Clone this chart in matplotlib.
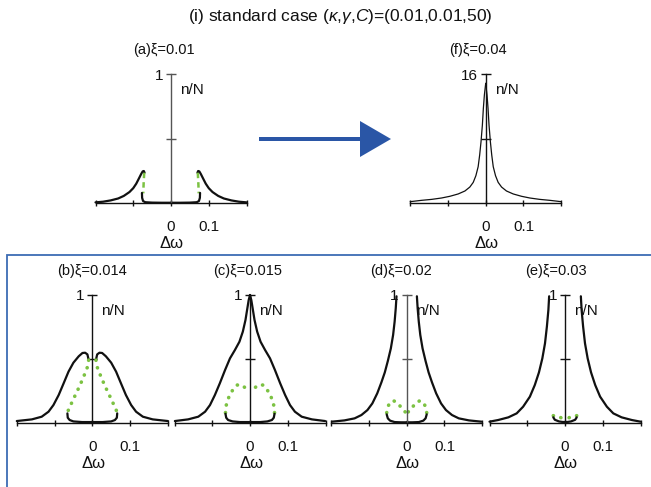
import numpy as np
import matplotlib
matplotlib.use("Agg")
import matplotlib.pyplot as plt
from matplotlib.patches import FancyArrow

plt.rcParams['font.family'] = ['Liberation Sans', 'DejaVu Sans']
plt.rcParams['mathtext.fontset'] = 'custom'
plt.rcParams['mathtext.rm'] = 'Liberation Sans'
plt.rcParams['mathtext.it'] = 'Liberation Sans:italic'

# Values: left half of each curve (the picture is mirror symmetric about 0)
# (a) xi = 0.01
a_up_x = [-0.2, -0.18, -0.16, -0.14, -0.125, -0.11, -0.1, -0.092, -0.085, -0.079, -0.075, -0.072, -0.070]
a_up_y = [0.005, 0.01, 0.02, 0.035, 0.055, 0.085, 0.115, 0.15, 0.19, 0.225, 0.245, 0.248, 0.235]
a_mid_x = [-0.071, -0.0725, -0.0735]
a_mid_y = [0.235, 0.15, 0.075]
a_low_x = [-0.077, -0.0765, -0.074, -0.068, -0.05, -0.025, 0.0]
a_low_y = [0.078, 0.04, 0.015, 0.006, 0.003, 0.002, 0.002]

# (b) xi = 0.014
b_up_x = [-0.2, -0.16, -0.134, -0.116, -0.103, -0.089, -0.076, -0.063, -0.05, -0.036, -0.026, -0.019, -0.013, -0.011, -0.0097]
b_up_y = [0.013, 0.026, 0.047, 0.086, 0.138, 0.217, 0.308, 0.40, 0.47, 0.52, 0.546, 0.548, 0.535, 0.51, 0.49]
b_mid_x = [-0.0097, -0.011, -0.017, -0.024, -0.031, -0.039, -0.047, -0.054, -0.061, -0.066]
b_mid_y = [0.49, 0.45, 0.405, 0.352, 0.305, 0.253, 0.204, 0.159, 0.117, 0.078]
b_low_x = [-0.066, -0.065, -0.060, -0.050, -0.027, 0.0]
b_low_y = [0.073, 0.039, 0.021, 0.010, 0.005, 0.005]

# (c) xi = 0.015
c_up_x = [-0.199, -0.164, -0.137, -0.119, -0.106, -0.093, -0.080, -0.066, -0.053, -0.040, -0.028, -0.019, -0.012, -0.007, -0.0035, 0.0]
c_up_y = [0.013, 0.026, 0.047, 0.086, 0.138, 0.217, 0.308, 0.413, 0.504, 0.569, 0.634, 0.713, 0.804, 0.896, 0.96, 1.0]
c_mid_x = [-0.065, -0.064, -0.059, -0.053, -0.044, -0.034, -0.022, -0.013, -0.006, 0.0]
c_mid_y = [0.078, 0.125, 0.178, 0.222, 0.264, 0.295, 0.295, 0.274, 0.248, 0.243]
c_low_x = [-0.065, -0.063, -0.058, -0.046, -0.027, 0.0]
c_low_y = [0.07, 0.039, 0.021, 0.01, 0.005, 0.005]

# (d) xi = 0.02
d_up_x = [-0.198, -0.165, -0.138, -0.120, -0.104, -0.091, -0.078, -0.067, -0.058, -0.050, -0.042, -0.036, -0.032, -0.029, -0.027]
d_up_y = [0.008, 0.018, 0.034, 0.06, 0.099, 0.151, 0.23, 0.316, 0.394, 0.483, 0.582, 0.687, 0.791, 0.896, 0.99]
d_mid_x = [-0.053, -0.050, -0.044, -0.035, -0.026, -0.016, -0.007, 0.0]
d_mid_y = [0.078, 0.125, 0.159, 0.172, 0.159, 0.125, 0.091, 0.076]
d_low_x = [-0.053, -0.050, -0.044, -0.032, -0.015, 0.0]
d_low_y = [0.065, 0.034, 0.016, 0.005, 0.003, 0.003]

# (e) xi = 0.03
e_up_x = [-0.2, -0.177, -0.150, -0.128, -0.111, -0.093, -0.080, -0.069, -0.060, -0.053, -0.048, -0.044, -0.042]
e_up_y = [0.008, 0.021, 0.042, 0.073, 0.125, 0.204, 0.295, 0.394, 0.504, 0.621, 0.752, 0.883, 0.99]
e_mid_x = [-0.031, -0.022, -0.014, -0.006, 0.0]
e_mid_y = [0.055, 0.05, 0.045, 0.03, 0.02]
e_low_x = [-0.031, -0.027, -0.016, -0.007, 0.0]
e_low_y = [0.042, 0.023, 0.010, 0.006, 0.005]

# (f) xi = 0.04
f_up_x = [-0.2, -0.170, -0.143, -0.117, -0.095, -0.073, -0.055, -0.042, -0.033, -0.026, -0.020, -0.016, -0.0124, -0.0088, -0.0062, -0.0035, 0.0]
f_up_y = [0.165, 0.33, 0.45, 0.62, 0.83, 1.12, 1.49, 1.98, 2.56, 3.39, 4.5, 5.95, 7.6, 9.67, 11.74, 13.4, 14.84]

titles = ["(a)ξ=0.01", "(b)ξ=0.014", "(c)ξ=0.015", "(d)ξ=0.02", "(e)ξ=0.03", "(f)ξ=0.04"]
y_tops = [1, 1, 1, 1, 1, 16]
x_ticks = [-0.2, -0.1, 0.0, 0.1, 0.2]
x_labels = ["", "", "0", "0.1", ""]

W, H = 651, 487
fig = plt.figure(figsize=(W / 100, H / 100), dpi=100)

BLACK = "#111111"
GREEN = "#7cc242"
BLUE = "#2a56a6"

# (zero x pixel, top pixel, bottom pixel, title centre pixel x, title pixel y)
layout = [
    (171.0, 74.0, 203.0, 164.0, 50.0),
    (92.3, 295.0, 422.7, 91.7, 270.7),
    (250.0, 295.0, 422.7, 248.0, 270.7),
    (406.7, 295.0, 422.7, 400.7, 270.7),
    (565.0, 295.0, 422.7, 555.8, 270.7),
    (485.7, 74.0, 203.0, 477.5, 50.0),
]

curves = [
    [(a_up_x, a_up_y, "up"), (a_mid_x, a_mid_y, "mid_dash"), (a_low_x, a_low_y, "up")],
    [(b_up_x, b_up_y, "up"), (b_mid_x, b_mid_y, "mid"), (b_low_x, b_low_y, "up")],
    [(c_up_x, c_up_y, "up"), (c_mid_x, c_mid_y, "mid"), (c_low_x, c_low_y, "up")],
    [(d_up_x, d_up_y, "up"), (d_mid_x, d_mid_y, "mid"), (d_low_x, d_low_y, "up")],
    [(e_up_x, e_up_y, "up"), (e_mid_x, e_mid_y, "mid"), (e_low_x, e_low_y, "up")],
    [(f_up_x, f_up_y, "thin")],
]
spine_colors = ["#555555", "#111111", "#111111", "#555555", "#111111", "#111111"]

half = 75.5
for i, (zx, ty, by, tx, tty) in enumerate(layout):
    ax = fig.add_axes([(zx - half) / W, 1 - by / H, 2 * half / W, (by - ty) / H])
    top = y_tops[i]
    ax.set_xlim(-0.2, 0.2)
    ax.set_ylim(0, top)
    ax.patch.set_visible(False)
    for s in ["top", "right"]:
        ax.spines[s].set_visible(False)
    ax.spines["left"].set_position(("data", 0))
    ax.spines["left"].set_color(spine_colors[i])
    ax.spines["left"].set_linewidth(1.0)
    ax.spines["bottom"].set_color(BLACK)
    ax.spines["bottom"].set_linewidth(1.0)

    ax.set_xticks(x_ticks)
    ax.set_xticklabels(x_labels)
    ax.set_yticks([top / 2, top])
    ax.set_yticklabels(["", str(top)])
    ax.tick_params(axis="x", direction="inout", length=5, width=1.0, pad=10, labelsize=11, colors=BLACK)
    ax.tick_params(axis="y", direction="inout", length=6.5, width=1.0, pad=2.5, labelsize=11, colors=spine_colors[i])
    for lab in ax.get_yticklabels():
        lab.set_color(BLACK)

    for xs, ys, kind in curves[i]:
        xs = np.array(xs)
        ys = np.array(ys)
        for sx in (xs, -xs):
            if kind == "up":
                ax.plot(sx, ys, color=BLACK, lw=1.6, clip_on=False,
                        solid_capstyle="round", solid_joinstyle="round")
            elif kind == "thin":
                ax.plot(sx, ys, color=BLACK, lw=0.9, clip_on=False, solid_capstyle="round")
            elif kind == "mid":
                ax.plot(sx, ys, color=GREEN, lw=2.6, clip_on=False,
                        linestyle=(0, (0.05, 2.1)), dash_capstyle="round")
            else:
                ax.plot(sx, ys, color=GREEN, lw=1.8, clip_on=False,
                        linestyle=(0, (2.2, 1.6)))

    ax.annotate("n/N", xy=(0, top), xytext=(21, -16), textcoords="offset pixels",
                ha="center", va="center", fontsize=11, color=BLACK)
    ax.annotate("Δω", xy=(0, 0), xytext=(1, -41), textcoords="offset pixels",
                ha="center", va="center", fontsize=12, color=BLACK)
    fig.text(tx / W, 1 - tty / H, titles[i], ha="center", va="center", fontsize=10.5, color=BLACK)

fig.text(340 / W, 1 - 16 / H, r"(i) standard case ($\kappa$,$\gamma$,$C$)=(0.01,0.01,50)",
         ha="center", va="center", fontsize=12.5, color=BLACK)

# overlay for arrow and frame, in pixel units
ov = fig.add_axes([0, 0, 1, 1])
ov.set_xlim(0, W)
ov.set_ylim(H, 0)
ov.axis("off")
ov.add_patch(FancyArrow(259, 139, 132, 0, width=4, head_width=36, head_length=31,
                        length_includes_head=True, color=BLUE, lw=0))
ov.plot([7.3, 7.3, W], [H, 255, 255], color="#3d6cb4", lw=1.3, solid_joinstyle="miter")

fig.savefig("out.png", dpi=100)
